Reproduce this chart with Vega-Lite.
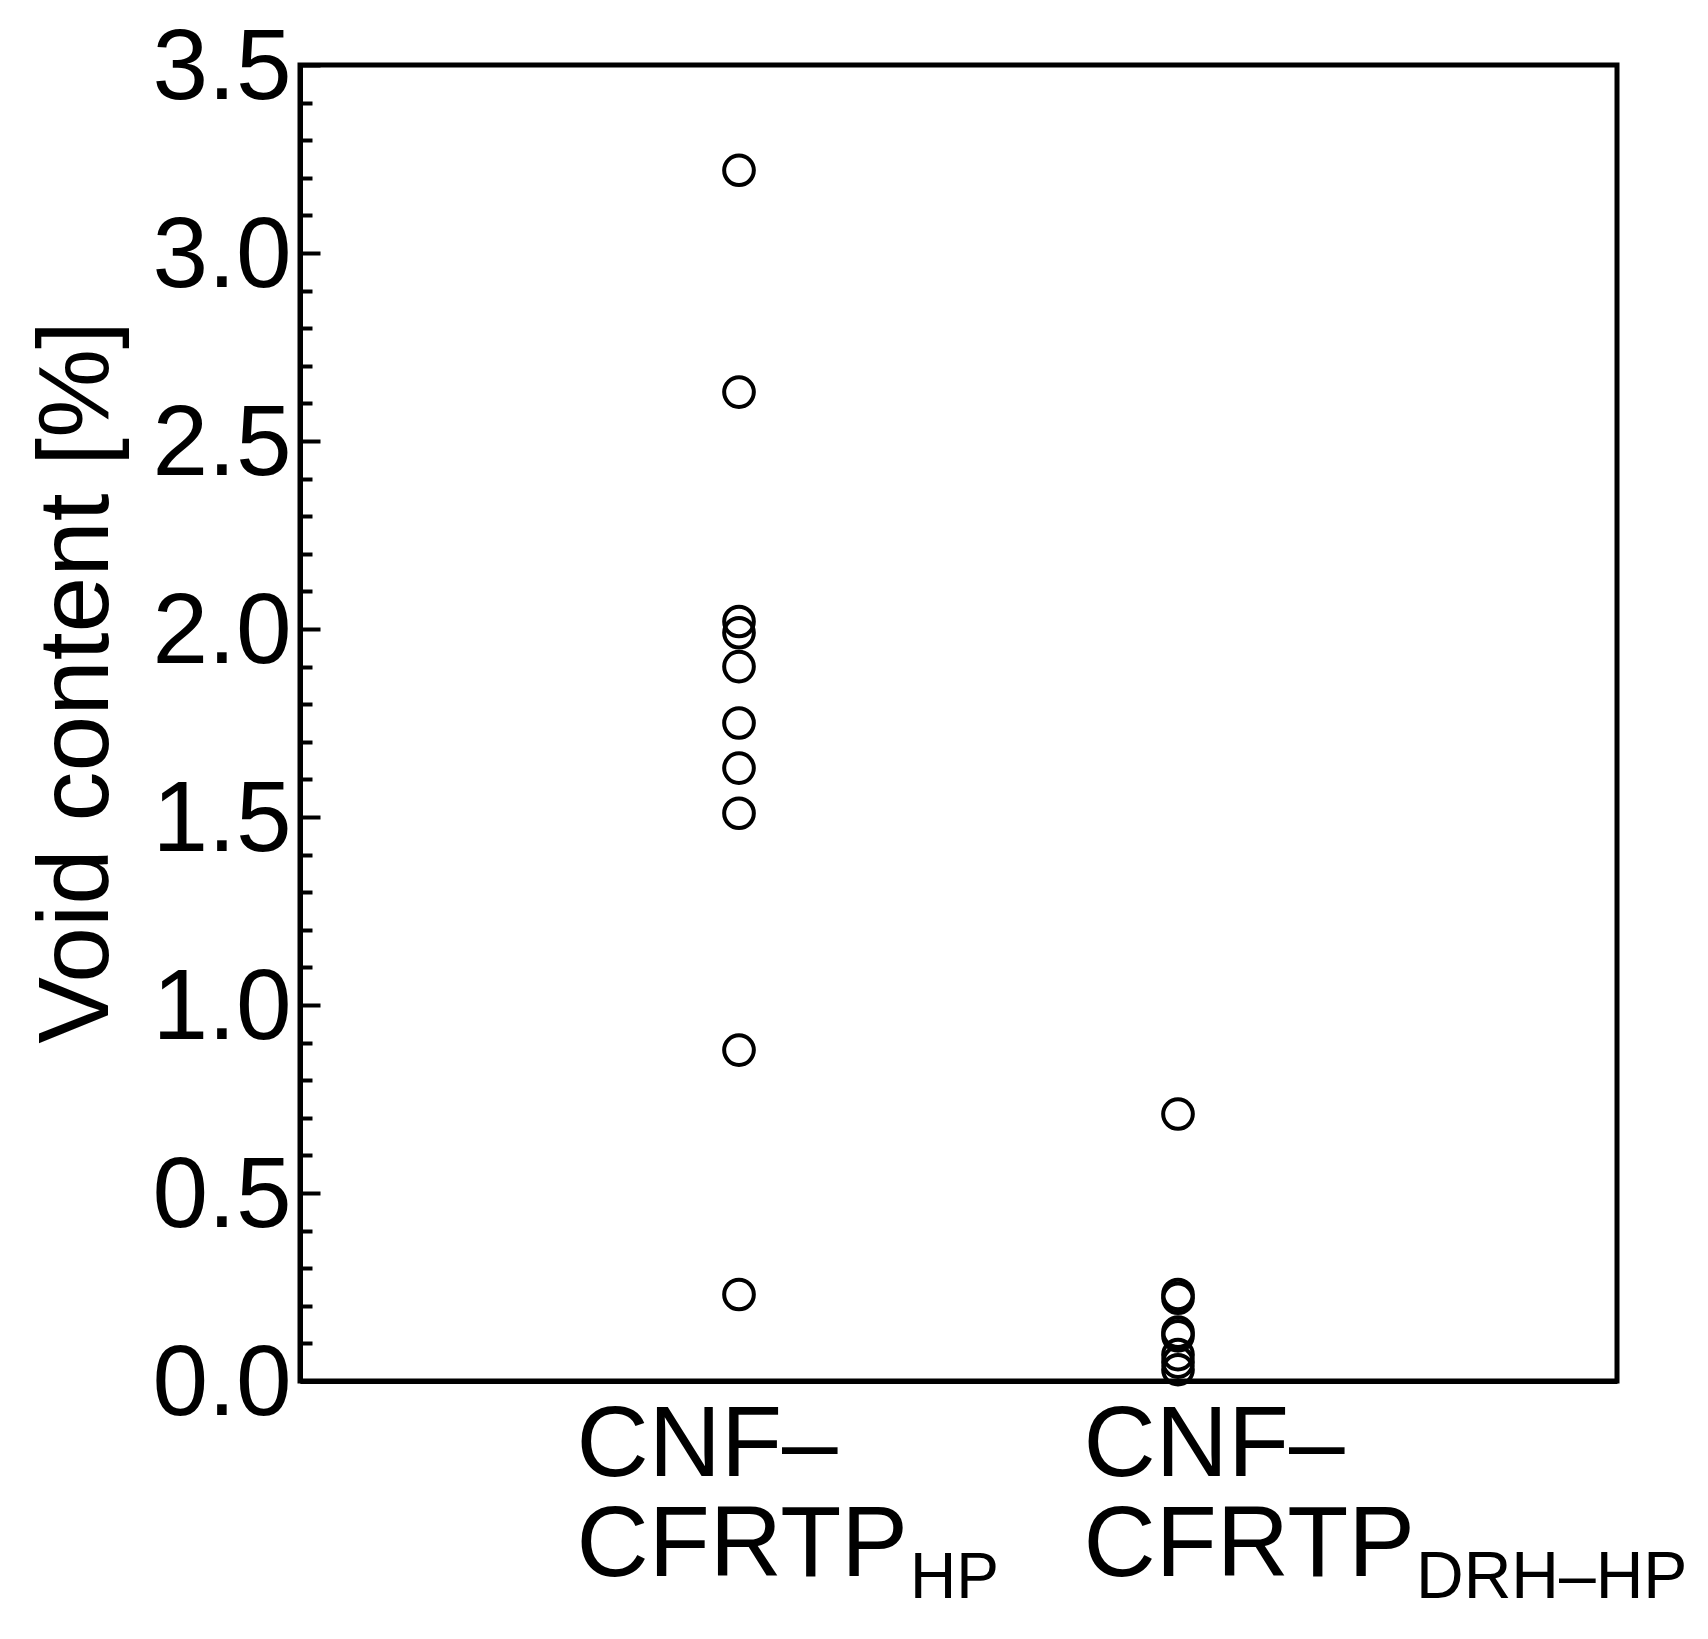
{
  "$schema": "https://vega.github.io/schema/vega-lite/v6.json",
  "width": 1317,
  "height": 1316,
  "autosize": {"type": "none"},
  "padding": {"left": 300, "top": 65, "right": 91, "bottom": 258},
  "background": "white",
  "view": {"stroke": "black", "strokeWidth": 5},
  "config": {
    "view": {"stroke": "black", "strokeWidth": 5},
    "font": "Liberation Sans",
    "axis": {"grid": false}
  },
  "datasets": {
    "points": [
      {"sample": "CNF–CFRTP_HP", "void": 3.22},
      {"sample": "CNF–CFRTP_HP", "void": 2.63},
      {"sample": "CNF–CFRTP_HP", "void": 2.02},
      {"sample": "CNF–CFRTP_HP", "void": 1.99},
      {"sample": "CNF–CFRTP_HP", "void": 1.90},
      {"sample": "CNF–CFRTP_HP", "void": 1.75},
      {"sample": "CNF–CFRTP_HP", "void": 1.63},
      {"sample": "CNF–CFRTP_HP", "void": 1.51},
      {"sample": "CNF–CFRTP_HP", "void": 0.88},
      {"sample": "CNF–CFRTP_HP", "void": 0.23},
      {"sample": "CNF–CFRTP_DRH–HP", "void": 0.71},
      {"sample": "CNF–CFRTP_DRH–HP", "void": 0.23},
      {"sample": "CNF–CFRTP_DRH–HP", "void": 0.22},
      {"sample": "CNF–CFRTP_DRH–HP", "void": 0.13},
      {"sample": "CNF–CFRTP_DRH–HP", "void": 0.12},
      {"sample": "CNF–CFRTP_DRH–HP", "void": 0.07},
      {"sample": "CNF–CFRTP_DRH–HP", "void": 0.05},
      {"sample": "CNF–CFRTP_DRH–HP", "void": 0.03}
    ],
    "subs": [
      {"sample": "CNF–CFRTP_HP", "sub": "HP"},
      {"sample": "CNF–CFRTP_DRH–HP", "sub": "DRH–HP"}
    ]
  },
  "layer": [
    {
      "data": {"name": "points"},
      "mark": {"type": "point", "shape": "circle", "filled": false, "stroke": "black", "strokeWidth": 4, "size": 880, "opacity": 1},
      "encoding": {
        "x": {
          "field": "sample",
          "type": "nominal",
          "sort": ["CNF–CFRTP_HP", "CNF–CFRTP_DRH–HP"],
          "scale": {"type": "point", "padding": 1, "domain": ["CNF–CFRTP_HP", "CNF–CFRTP_DRH–HP"]},
          "axis": {
            "title": null,
            "ticks": false,
            "tickSize": 0,
            "domain": true,
            "domainColor": "black",
            "domainWidth": 5,
            "labelExpr": "['CNF–', 'CFRTP']",
            "labelFont": "Liberation Sans",
            "labelFontSize": 100,
            "labelColor": "black",
            "labelAngle": 0,
            "labelAlign": "left",
            "labelBaseline": "top",
            "labelLineHeight": 100,
            "labelPadding": 15,
            "labelOffset": {"condition": {"test": "datum.value === 'CNF–CFRTP_HP'", "value": -163}, "value": -95},
            "labelOverlap": false,
            "labelBound": false,
            "labelFlush": false,
            "labelLimit": 0
          }
        },
        "y": {
          "field": "void",
          "type": "quantitative",
          "scale": {"domain": [0, 3.5], "nice": false, "zero": false},
          "axis": {
            "title": "Void content [%]",
            "titleFont": "Liberation Sans",
            "titleFontSize": 100,
            "titleFontWeight": "normal",
            "titleColor": "black",
            "titleAngle": -90,
            "titleAlign": "center",
            "titleBaseline": "alphabetic",
            "titleX": -193,
            "titleY": 617,
            "tickCount": 40,
            "values": [0, 0.1, 0.2, 0.3, 0.4, 0.5, 0.6, 0.7, 0.8, 0.9, 1.0, 1.1, 1.2, 1.3, 1.4, 1.5, 1.6, 1.7, 1.8, 1.9, 2.0, 2.1, 2.2, 2.3, 2.4, 2.5, 2.6, 2.7, 2.8, 2.9, 3.0, 3.1, 3.2, 3.3, 3.4, 3.5],
            "labelExpr": "abs(datum.value*2 - round(datum.value*2)) < 0.01 ? format(datum.value, '.1f') : ''",
            "tickSize": {"condition": {"test": "abs(datum.value*2 - round(datum.value*2)) < 0.01", "value": -20}, "value": -12},
            "tickWidth": 4,
            "tickColor": "black",
            "domain": true,
            "domainColor": "black",
            "domainWidth": 5,
            "labelFont": "Liberation Sans",
            "labelFontSize": 100,
            "labelColor": "black",
            "labelPadding": 29,
            "labelOffset": 3,
            "labelOverlap": false,
            "labelFlush": false,
            "labelBound": false,
            "labelLimit": 0
          }
        }
      }
    },
    {
      "data": {"name": "subs"},
      "transform": [{"filter": "datum.sample === 'CNF–CFRTP_HP'"}],
      "mark": {"type": "text", "align": "left", "baseline": "alphabetic", "font": "Liberation Sans", "fontSize": 64, "color": "black", "dx": 171, "dy": 217},
      "encoding": {
        "x": {"field": "sample", "type": "nominal"},
        "y": {"datum": 0, "type": "quantitative"},
        "text": {"field": "sub"}
      }
    },
    {
      "data": {"name": "subs"},
      "transform": [{"filter": "datum.sample === 'CNF–CFRTP_DRH–HP'"}],
      "mark": {"type": "text", "align": "left", "baseline": "alphabetic", "font": "Liberation Sans", "fontSize": 66, "color": "black", "dx": 238, "dy": 217},
      "encoding": {
        "x": {"field": "sample", "type": "nominal"},
        "y": {"datum": 0, "type": "quantitative"},
        "text": {"field": "sub"}
      }
    }
  ]
}
